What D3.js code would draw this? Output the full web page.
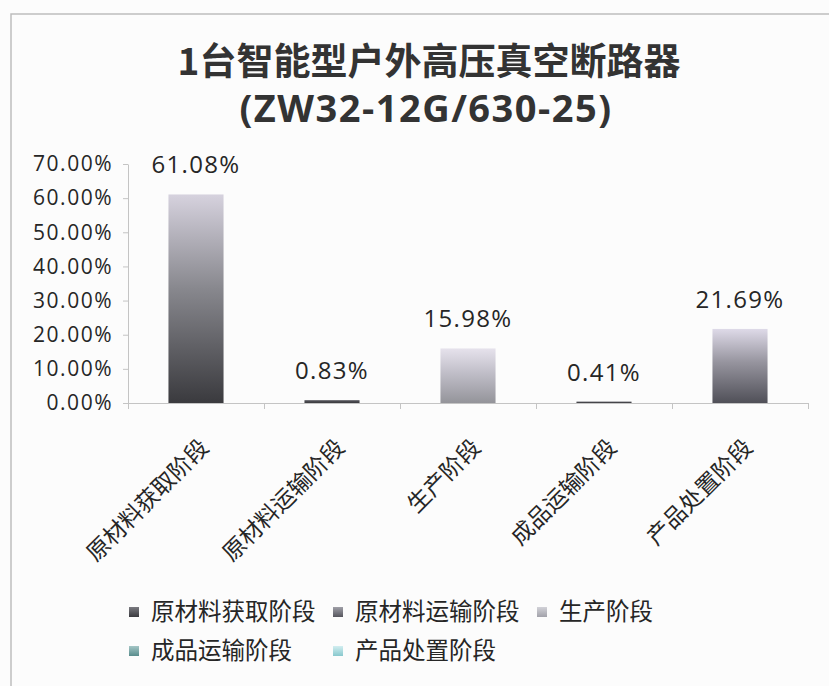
<!DOCTYPE html>
<html>
<head>
<meta charset="utf-8">
<script src="https://cdn.jsdelivr.net/npm/d3@7"></script>
<style>
    body { margin: 0; background: #fcfcfc; }
    svg { display: block; }
    .axis path, .axis line { stroke: #c4c4c4; }
    .axis text { font-family: "Open Sans", "Noto Sans CJK SC", sans-serif; fill: #262626; }
</style>
</head>
<body>
<div id="chart"></div>
<script>
// Chart values.
const titleLines = ["1台智能型户外高压真空断路器", "(ZW32-12G/630-25)"];
const categories = ["原材料获取阶段", "原材料运输阶段", "生产阶段", "成品运输阶段", "产品处置阶段"];
const shares = [0.6108, 0.0083, 0.1598, 0.0041, 0.2169];
const yTicks = [0, 0.1, 0.2, 0.3, 0.4, 0.5, 0.6, 0.7];

// Styles for each stage: bar gradient (top -> bottom) and legend swatch.
const barTop = ["#d6d2de", "#5a5a60", "#e6e2ec", "#5a5a60", "#dedae8"];
const barMid = ["#88888e", "#4a4a50", "#c0bec8", "#4a4a50", "#96949e"];
const barBottom = ["#3a3a3e", "#3a3a3e", "#94949a", "#3a3a3e", "#505058"];
const swatch = [
    ["#7a7a80", "#3a3a3e"],
    ["#a0a0a8", "#56565e"],
    ["#d2d2d8", "#a2a2aa"],
    ["#a4c6c6", "#588c8c"],
    ["#d2eef0", "#88c8cd"]
];

const width = 829;
const height = 686;

const plot = { left: 128, right: 808, top: 164, bottom: 403 };

const svg = d3.select("#chart").append("svg")
    .attr("width", width)
    .attr("height", height);

const defs = svg.append("defs");

// Frame of the scanned chart area.
svg.append("path")
    .attr("d", `M11,${height} V14 H${width}`)
    .attr("fill", "none")
    .attr("stroke", "#bdbdbd")
    .attr("stroke-width", 1.5);

// Title, two lines.
svg.append("text")
    .attr("x", 429)
    .attr("y", 75)
    .attr("text-anchor", "middle")
    .style("font-family", "'Noto Sans CJK SC', sans-serif")
    .style("font-weight", "bold")
    .style("font-size", "37px")
    .style("fill", "#333")
    .text(titleLines[0]);

svg.append("text")
    .attr("x", 426)
    .attr("y", 122)
    .attr("text-anchor", "middle")
    .style("font-family", "'Open Sans', sans-serif")
    .style("font-weight", "bold")
    .style("font-size", "38px")
    .style("letter-spacing", "1.5px")
    .style("fill", "#333")
    .text(titleLines[1]);

// Scales.
const y = d3.scaleLinear()
    .domain([0, 0.7])
    .range([plot.bottom, plot.top]);

const x = d3.scaleBand()
    .domain(categories)
    .range([plot.left, plot.right])
    .paddingInner(0.595)
    .paddingOuter(0.2975);

// Category boundaries, for Excel-style ticks between the bars.
const xEdge = d3.scaleLinear()
    .domain([0, categories.length])
    .range([plot.left, plot.right]);

// Y axis with percentage labels.
const yAxis = svg.append("g")
    .attr("class", "y axis")
    .attr("transform", `translate(${plot.left},0)`)
    .call(d3.axisLeft(y).tickValues(yTicks).tickFormat(d3.format(".2%")).tickSize(5).tickSizeOuter(0).tickPadding(10));

yAxis.selectAll("text")
    .style("font-size", "21px")
    .style("letter-spacing", "1.5px");

// X axis line with ticks at the category edges.
svg.append("g")
    .attr("class", "x axis")
    .attr("transform", `translate(0,${plot.bottom})`)
    .call(d3.axisBottom(xEdge).tickValues(d3.range(categories.length + 1)).tickFormat("").tickSize(6).tickSizeOuter(0));

// Gradients for the bars and legend swatches.
categories.forEach((c, i) => {
    const g = defs.append("linearGradient")
        .attr("id", `bar-grad-${i}`)
        .attr("x1", 0).attr("y1", 0)
        .attr("x2", 0).attr("y2", 1);
    g.append("stop").attr("offset", "0%").attr("stop-color", barTop[i]);
    g.append("stop").attr("offset", "45%").attr("stop-color", barMid[i]);
    g.append("stop").attr("offset", "100%").attr("stop-color", barBottom[i]);

    const s = defs.append("linearGradient")
        .attr("id", `swatch-grad-${i}`)
        .attr("x1", 0).attr("y1", 0)
        .attr("x2", 0).attr("y2", 1);
    s.append("stop").attr("offset", "0%").attr("stop-color", swatch[i][0]);
    s.append("stop").attr("offset", "100%").attr("stop-color", swatch[i][1]);
});

// Bars.
svg.append("g")
    .selectAll("rect")
    .data(shares)
    .join("rect")
    .attr("x", (d, i) => x(categories[i]))
    .attr("y", d => y(d))
    .attr("width", x.bandwidth())
    .attr("height", d => y(0) - y(d))
    .attr("fill", (d, i) => `url(#bar-grad-${i})`);

// Data labels above the bars.
svg.append("g")
    .selectAll("text")
    .data(shares)
    .join("text")
    .attr("x", (d, i) => x(categories[i]) + x.bandwidth() / 2)
    .attr("y", d => y(d) - 21)
    .attr("text-anchor", "middle")
    .style("font-family", "'Open Sans', sans-serif")
    .style("font-size", "24px")
    .style("letter-spacing", "1.3px")
    .style("fill", "#262626")
    .text(d => d3.format(".2%")(d));

// Rotated category labels.
svg.append("g")
    .selectAll("text")
    .data(categories)
    .join("text")
    .attr("transform", d => `translate(${x(d) + x.bandwidth() / 2 + 14},449) rotate(-45)`)
    .attr("text-anchor", "end")
    .style("font-family", "'Noto Sans CJK SC', sans-serif")
    .style("font-size", "23px")
    .style("fill", "#262626")
    .text(d => d);

// Legend, three columns.
const legendLeft = 129;
const colWidth = 204;
const rowY = [612, 651];

const legend = svg.append("g")
    .selectAll("g")
    .data(categories)
    .join("g")
    .attr("transform", (d, i) => `translate(${legendLeft + (i % 3) * colWidth},${rowY[Math.floor(i / 3)]})`);

legend.append("rect")
    .attr("x", 0)
    .attr("y", -5)
    .attr("width", 10)
    .attr("height", 10)
    .attr("fill", (d, i) => `url(#swatch-grad-${i})`);

legend.append("text")
    .attr("x", 22)
    .attr("dy", "0.36em")
    .style("font-family", "'Noto Sans CJK SC', sans-serif")
    .style("font-size", "23.5px")
    .style("fill", "#262626")
    .text(d => d);
</script>
</body>
</html>
